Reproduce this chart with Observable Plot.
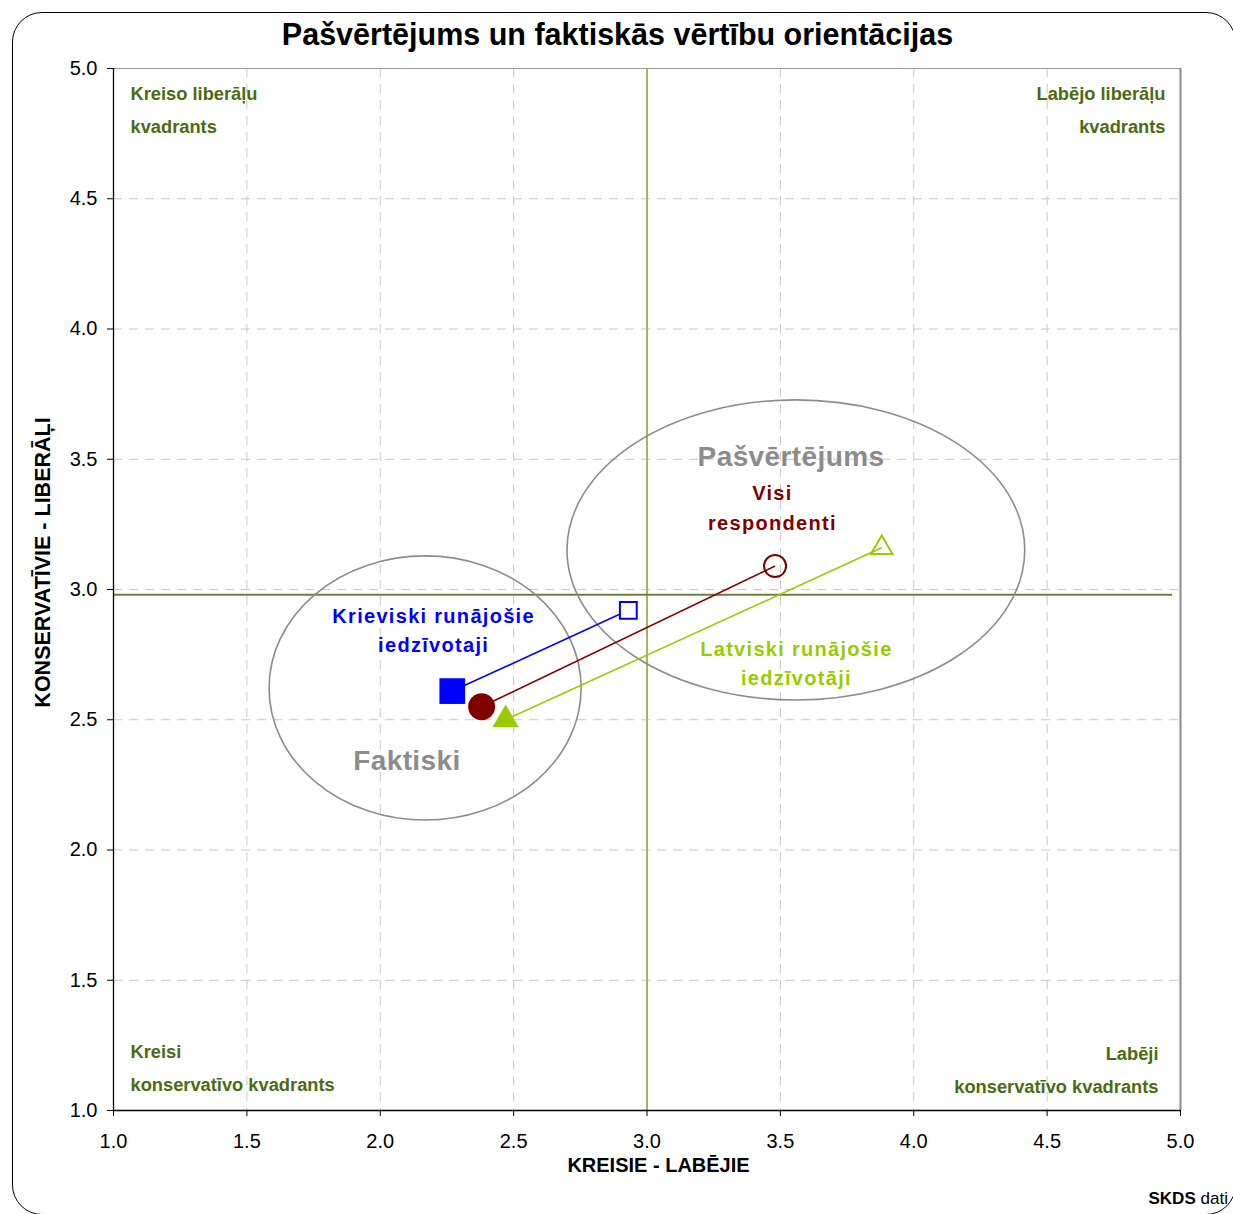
<!DOCTYPE html>
<html>
<head>
<meta charset="utf-8">
<script src="https://cdn.jsdelivr.net/npm/d3@7"></script>
<script src="https://cdn.jsdelivr.net/npm/@observablehq/plot@0.6"></script>
<style>
  html, body { margin: 0; padding: 0; background: #fff; overflow: hidden; }
  #wrap { position: relative; width: 1233px; height: 1214px; overflow: hidden; }
  #frame { position: absolute; left: 12px; top: 12px; width: 1224px; height: 1203px;
           border: 1.3px solid #000; border-radius: 30px; box-sizing: border-box; }
  #chart { position: absolute; left: 0; top: 0; }
</style>
</head>
<body>
<div id="wrap"><div id="frame"></div><div id="chart"></div></div>
<script>
// ---- data ----
const title = "Pašvērtējums un faktiskās vērtību orientācijas";
const xLabel = "KREISIE - LABĒJIE";
const yLabel = "KONSERVATĪVIE - LIBERĀĻI";
const ticks = [1.0, 1.5, 2.0, 2.5, 3.0, 3.5, 4.0, 4.5, 5.0];

const groups = ["Krieviski runājošie\niedzīvotaji", "Visi\nrespondenti", "Latviski runājošie\niedzīvotāji"];
const groupColors = ["#0000ff", "#800000", "#99cc00"];
const groupSymbols = ["square", "circle", "triangle"];
const faktiskiX = [2.27, 2.38, 2.47];
const faktiskiY = [2.61, 2.55, 2.50];
const pasvertejumsX = [2.93, 3.48, 3.88];
const pasvertejumsY = [2.92, 3.09, 3.16];
const groupLabelX = [2.20, 3.47, 3.56];
const groupLabelY = [2.852, 3.322, 2.725];

const ellipseNames = ["Faktiski", "Pašvērtējums"];
const ellipseCX = [2.17, 3.56];
const ellipseCY = [2.62, 3.15];
const ellipseRX = [0.585, 0.858];
const ellipseRY = [0.507, 0.576];
const ellipseLabelX = [2.10, 3.54];
const ellipseLabelY = [2.34, 3.51];

const refX = 3.0;
const refY = 2.98;
const refYEnd = 4.97;

const quadrants = ["Kreiso liberāļu\nkvadrants", "Labējo liberāļu\nkvadrants", "Kreisi\nkonservatīvo kvadrants", "Labēji\nkonservatīvo kvadrants"];
const source = ["SKDS", "dati"];

// ---- tables ----
const pts = groups.map((g, i) => ({
  g, i, color: groupColors[i], symbol: groupSymbols[i],
  fx: faktiskiX[i], fy: faktiskiY[i], px: pasvertejumsX[i], py: pasvertejumsY[i],
  lx: groupLabelX[i], ly: groupLabelY[i]
}));
const ells = ellipseNames.map((n, i) => ({n, cx: ellipseCX[i], cy: ellipseCY[i], rx: ellipseRX[i], ry: ellipseRY[i], lx: ellipseLabelX[i], ly: ellipseLabelY[i]}));

const quadColor = "#4b6b12";

function ellipseMark(index, scales) {
  const g = d3.create("svg:g");
  for (const e of ells) {
    const cx = scales.x(e.cx), cy = scales.y(e.cy);
    const rx = Math.abs(scales.x(e.cx + e.rx) - cx);
    const ry = Math.abs(scales.y(e.cy + e.ry) - cy);
    g.append("ellipse").attr("cx", cx).attr("cy", cy).attr("rx", rx).attr("ry", ry)
      .attr("fill", "none").attr("stroke", "#8c8c8c").attr("stroke-width", 1.6);
  }
  return g.node();
}

const chart = Plot.plot({
  width: 1233,
  height: 1214,
  marginLeft: 113,
  marginRight: 53,
  marginTop: 68,
  marginBottom: 104,
  style: {fontFamily: "'Liberation Sans', Arial, sans-serif", fontSize: "18px", background: "transparent", overflow: "visible"},
  x: {domain: [1, 5], ticks: ticks},
  y: {domain: [1, 5], ticks: ticks},
  marks: [
    // grid
    Plot.gridX(ticks.slice(1, -1), {stroke: "#c8c8c8", strokeOpacity: 1, strokeDasharray: "9,7", strokeWidth: 1}),
    Plot.gridY(ticks.slice(1, -1), {stroke: "#c8c8c8", strokeOpacity: 1, strokeDasharray: "9,7", strokeWidth: 1}),
    // frame top/right
    Plot.ruleY([5], {stroke: "#999", strokeWidth: 1.2}),
    Plot.ruleX([5], {stroke: "#8a8a8a", strokeWidth: 2}),
    // reference lines
    Plot.ruleX([refX], {stroke: "#a6b468", strokeWidth: 2}),
    Plot.ruleY([refY], {x1: 1, x2: refYEnd, stroke: "#6e7f3c", strokeWidth: 2}),
    // ellipses
    ellipseMark,
    // axes
    Plot.axisX({ticks: ticks, tickFormat: d3.format(".1f"), tickSize: 6, tickPadding: 17, fontSize: 20, label: null, stroke: "#000"}),
    Plot.axisY({ticks: ticks, tickFormat: d3.format(".1f"), tickSize: 6, tickPadding: 10, fontSize: 20, label: null, stroke: "#000"}),
    Plot.ruleX([1], {stroke: "#000", strokeWidth: 1.3}),
    Plot.ruleY([1], {stroke: "#000", strokeWidth: 1.3}),
    // connecting links
    Plot.link(pts, {x1: "fx", y1: "fy", x2: "px", y2: "py", stroke: "color", strokeWidth: 1.6}),
    // filled (Faktiski)
    Plot.dot(pts.filter(d => d.symbol === "square"), {x: "fx", y: "fy", symbol: "symbol", fill: "color", r: 14.5}),
    Plot.dot(pts.filter(d => d.symbol === "circle"), {x: "fx", y: "fy", symbol: "symbol", fill: "color", r: 13.5}),
    Plot.dot(pts.filter(d => d.symbol === "triangle"), {x: "fx", y: "fy", symbol: "symbol", fill: "color", r: 9.8}),
    // open (Pašvērtējums)
    Plot.dot(pts.filter(d => d.symbol === "square"), {x: "px", y: "py", symbol: "symbol", stroke: "color", fill: "#fff", strokeWidth: 2, r: 9.5}),
    Plot.dot(pts.filter(d => d.symbol === "circle"), {x: "px", y: "py", symbol: "symbol", stroke: "color", fill: "none", strokeWidth: 2, r: 11}),
    Plot.dot(pts.filter(d => d.symbol === "triangle"), {x: "px", y: "py", symbol: "symbol", stroke: "color", fill: "none", strokeWidth: 2, r: 8}),
    // group labels
    Plot.text(pts, {x: "lx", y: "ly", text: "g", fill: "color", fontWeight: "bold", fontSize: 20, lineHeight: 1.47, lineAnchor: "middle"}),
    // ellipse labels
    Plot.text(ells, {x: "lx", y: "ly", text: "n", fill: "#8c8c8c", fontWeight: "bold", fontSize: 28, lineAnchor: "middle"}),
    // quadrant labels
    Plot.text([quadrants[0]], {frameAnchor: "top-left", text: d => d, dx: 17, dy: 37.5, lineAnchor: "middle", textAnchor: "start", lineHeight: 1.8, fill: quadColor, fontWeight: "bold", fontSize: 18.3}),
    Plot.text([quadrants[1]], {frameAnchor: "top-right", text: d => d, dx: -15, dy: 37.5, lineAnchor: "middle", textAnchor: "end", lineHeight: 1.8, fill: quadColor, fontWeight: "bold", fontSize: 18.3}),
    Plot.text([quadrants[2]], {frameAnchor: "bottom-left", text: d => d, dx: 17, dy: -46.5, lineAnchor: "middle", textAnchor: "start", lineHeight: 1.8, fill: quadColor, fontWeight: "bold", fontSize: 18.3}),
    Plot.text([quadrants[3]], {frameAnchor: "bottom-right", text: d => d, dx: -22, dy: -44.5, lineAnchor: "middle", textAnchor: "end", lineHeight: 1.8, fill: quadColor, fontWeight: "bold", fontSize: 18.3}),
    // title
    Plot.text([title], {frameAnchor: "top", text: d => d, dx: -29.5, dy: -33, lineAnchor: "middle", fontWeight: "bold", fontSize: 30.5, fill: "#000"}),
    // axis labels
    Plot.text([xLabel], {frameAnchor: "bottom", text: d => d, dx: 11.5, dy: 55, lineAnchor: "middle", textAnchor: "middle", fontWeight: "bold", fontSize: 20, fill: "#000"}),
    Plot.text([yLabel], {frameAnchor: "left", text: d => d, dx: -70, dy: -27, rotate: -90, lineAnchor: "middle", textAnchor: "middle", fontWeight: "bold", fontSize: 21.5, fill: "#000"}),
    // source
    Plot.text([source[0]], {frameAnchor: "bottom-right", text: d => d, dx: -32, dy: 88, textAnchor: "start", lineAnchor: "middle", fontWeight: "bold", fontSize: 17, fill: "#000"}),
    Plot.text([source[1]], {frameAnchor: "bottom-right", text: d => d, dx: 20, dy: 88, textAnchor: "start", lineAnchor: "middle", fontSize: 17, fill: "#000"})
  ]
});

// letter spacing for the in-plot group labels and ellipse names
const groupTexts = new Set(groups.map(g => g.replace("\n", "")));
const ellTexts = new Set(ellipseNames);
d3.select(chart).selectAll("text").each(function() {
  const t = this.textContent;
  if (groupTexts.has(t)) this.style.letterSpacing = "1.3px";
  else if (ellTexts.has(t)) this.style.letterSpacing = "0.4px";
});
document.getElementById("chart").appendChild(chart);
</script>
</body>
</html>
